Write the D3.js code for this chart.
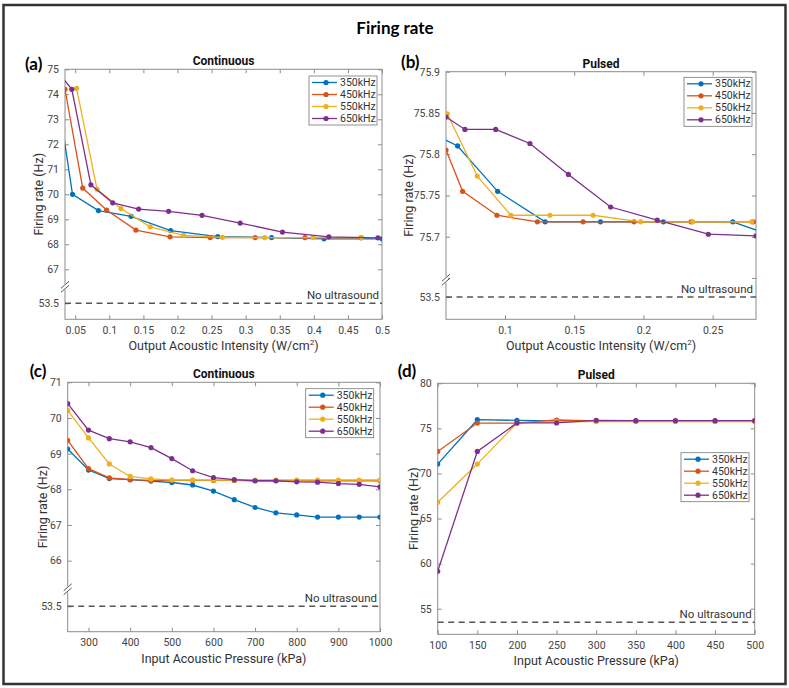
<!DOCTYPE html>
<html lang="en">

<head>
    <meta charset="UTF-8">
    <title>Firing rate</title>
    <script src="https://d3js.org/d3.v7.min.js"></script>
    <style>
        body { margin: 0; background: #fff; }
        svg { display: block; }
        .tick text { font-family: "Liberation Sans Narrow", Roboto, "Liberation Sans", sans-serif; font-size: 10.5px; fill: #444; }
        .lab { font-family: "Liberation Sans Narrow", Roboto, "Liberation Sans", sans-serif; fill: #333; }
    </style>
</head>

<body>
    <svg id="chart" width="789" height="688"></svg>

    <script>
        // series names + MATLAB default colours
        const freqs = ["350kHz", "450kHz", "550kHz", "650kHz"];
        const colors = ["#0072BD", "#D95319", "#EDB120", "#7E2F8E"];
        const noUltrasound = 53.5;

        // (a) continuous, output intensity (W/cm2) -> firing rate
        const a350x = [0.03, 0.046, 0.084, 0.132, 0.19, 0.259, 0.338, 0.415, 0.5];
        const a350y = [72.9, 70.0, 69.35, 69.12, 68.55, 68.31, 68.27, 68.22, 68.22];
        const a450x = [0.035, 0.061, 0.096, 0.139, 0.189, 0.248, 0.314, 0.387, 0.469];
        const a450y = [74.2, 70.25, 69.37, 68.57, 68.3, 68.27, 68.27, 68.27, 68.26];
        const a550x = [0.052, 0.082, 0.117, 0.16, 0.209, 0.266, 0.328, 0.399, 0.47];
        const a550y = [74.24, 70.2, 69.43, 68.7, 68.36, 68.28, 68.27, 68.27, 68.27];
        const a650x = [0.03, 0.045, 0.073, 0.105, 0.143, 0.187, 0.236, 0.292, 0.354, 0.422, 0.494];
        const a650y = [74.71, 74.2, 70.38, 69.66, 69.41, 69.32, 69.16, 68.85, 68.49, 68.3, 68.26];

        // (b) pulsed, output intensity
        const b350x = [0.05, 0.0658, 0.0947, 0.129, 0.169, 0.2144, 0.2645, 0.29];
        const b350y = [75.823, 75.81, 75.755, 75.718, 75.718, 75.718, 75.718, 75.703];
        const b450x = [0.0574, 0.0694, 0.0942, 0.1234, 0.1564, 0.1932, 0.2344, 0.2794];
        const b450y = [75.805, 75.755, 75.726, 75.718, 75.718, 75.718, 75.718, 75.718];
        const b550x = [0.0583, 0.08, 0.1043, 0.1325, 0.1636, 0.198, 0.2356, 0.2782];
        const b550y = [75.849, 75.7735, 75.726, 75.726, 75.726, 75.718, 75.718, 75.718];
        const b650x = [0.0574, 0.0711, 0.0933, 0.118, 0.1458, 0.1763, 0.21, 0.2469, 0.2813];
        const b650y = [75.845, 75.83, 75.83, 75.813, 75.7755, 75.736, 75.72, 75.703, 75.701];

        // (c) continuous, input pressure (kPa)
        const cPressure = [250, 300, 350, 400, 450, 500, 550, 600, 650, 700, 750, 800, 850, 900, 950, 1000];
        const c350 = [69.13, 68.54, 68.3, 68.27, 68.23, 68.19, 68.12, 67.95, 67.71, 67.49, 67.34, 67.28, 67.22, 67.22, 67.22, 67.22];
        const c450 = [69.37, 68.58, 68.32, 68.27, 68.25, 68.25, 68.25, 68.25, 68.25, 68.24, 68.24, 68.24, 68.24, 68.24, 68.24, 68.24];
        const c550 = [70.21, 69.44, 68.71, 68.36, 68.29, 68.26, 68.26, 68.26, 68.26, 68.26, 68.26, 68.26, 68.26, 68.26, 68.26, 68.26];
        const c650 = [70.4, 69.66, 69.42, 69.33, 69.17, 68.86, 68.52, 68.33, 68.27, 68.24, 68.24, 68.21, 68.2, 68.16, 68.14, 68.07];

        // (d) pulsed, input pressure (kPa)
        const dPressure = [100, 150, 200, 250, 300, 350, 400, 450, 500];
        const d350 = [71.04, 75.96, 75.89, 75.82, 75.82, 75.82, 75.82, 75.82, 75.82];
        const d450 = [72.44, 75.59, 75.59, 75.93, 75.82, 75.82, 75.82, 75.82, 75.82];
        const d550 = [66.8, 71.04, 75.6, 75.75, 75.75, 75.75, 75.75, 75.75, 75.75];
        const d650 = [59.15, 72.44, 75.6, 75.6, 75.89, 75.85, 75.85, 75.85, 75.85];

        // tick values
        const aXTicks = [0.05, 0.1, 0.15, 0.2, 0.25, 0.3, 0.35, 0.4, 0.45, 0.5];
        const aYTicks = [67, 68, 69, 70, 71, 72, 73, 74, 75];
        const bXTicks = [0.1, 0.15, 0.2, 0.25];
        const bYTicks = [75.65, 75.7, 75.75, 75.8, 75.85, 75.9];
        const cXTicks = [300, 400, 500, 600, 700, 800, 900, 1000];
        const cYTicks = [66, 67, 68, 69, 70, 71];
        const dXTicks = [100, 150, 200, 250, 300, 350, 400, 450, 500];
        const dYTicks = [55, 60, 65, 70, 75, 80];

        const zip = (xs, ys) => xs.map((v, i) => [v, ys[i]]);

        const panels = [
            {
                id: "a", label: "(a)", labelPos: [-40, 1], yLabelX: -22, title: "Continuous", box: [65, 69.3, 382, 319.3],
                xDomain: [0.035, 0.5], xTicks: aXTicks, xLabel: "intensity",
                yDomain: [53, noUltrasound, 67, 75], yRange: [1, 0.936, 0.8, 0], yTicks: aYTicks, hide: [],
                broken: true, breakFrac: 0.87, legend: [244, 6.7],
                series: [zip(a350x, a350y), zip(a450x, a450y), zip(a550x, a550y), zip(a650x, a650y)]
            },
            {
                id: "b", label: "(b)", labelPos: [-45, -4], yLabelX: -33, title: "Pulsed", box: [446, 71.7, 756, 319.3],
                xDomain: [0.0574, 0.2813], xTicks: bXTicks, xLabel: "intensity",
                yDomain: [53, noUltrasound, 75.65, 75.9], yRange: [1, 0.91, 0.833, 0], yTicks: bYTicks, hide: [75.65],
                broken: true, breakFrac: 0.84, legend: [238, 5.6],
                series: [zip(b350x, b350y), zip(b450x, b450y), zip(b550x, b550y), zip(b650x, b650y)]
            },
            {
                id: "c", label: "(c)", labelPos: [-38, -5], yLabelX: -21, title: "Continuous", box: [67.7, 382.3, 380, 631.7],
                xDomain: [250, 1000], xTicks: cXTicks, xLabel: "Input Acoustic Pressure (kPa)",
                yDomain: [53, noUltrasound, 66, 71], yRange: [1, 0.898, 0.715, 0], yTicks: cYTicks, hide: [],
                broken: true, breakFrac: 0.83, legend: [238, 6.4],
                series: [zip(cPressure, c350), zip(cPressure, c450), zip(cPressure, c550), zip(cPressure, c650)]
            },
            {
                id: "d", label: "(d)", labelPos: [-40, -6], yLabelX: -20, title: "Pulsed", box: [437.7, 383.3, 754.7, 634.3],
                xDomain: [100, 500], xTicks: dXTicks, xLabel: "Input Acoustic Pressure (kPa)",
                yDomain: [52.16, 80], yRange: [1, 0], yTicks: dYTicks, hide: [],
                broken: false, legend: [243.3, 69.4],
                series: [zip(dPressure, d350), zip(dPressure, d450), zip(dPressure, d550), zip(dPressure, d650)]
            }
        ];

        const svg = d3.select("#chart");
        const axisColor = "#8c8c8c";

        // outer frame + main title
        svg.append("rect")
            .attr("x", 3.5).attr("y", 5).attr("width", 782).attr("height", 679)
            .attr("fill", "white").attr("stroke", "#333").attr("stroke-width", 2.5);
        svg.append("text")
            .attr("x", 395).attr("y", 34).attr("text-anchor", "middle")
            .style("font-family", "Lato, 'Open Sans', sans-serif").style("font-weight", "bold").style("font-size", "17px")
            .text("Firing rate");

        function drawPanel(p) {
            const w = p.box[2] - p.box[0], h = p.box[3] - p.box[1];
            const g = svg.append("g").attr("transform", `translate(${p.box[0]},${p.box[1]})`);

            const x = d3.scaleLinear().domain(p.xDomain).range([0, w]);
            const y = d3.scaleLinear().domain(p.yDomain).range(p.yRange.map(f => f * h));

            g.append("clipPath").attr("id", "clip-" + p.id)
                .append("rect").attr("width", w).attr("height", h);

            g.append("rect").attr("width", w).attr("height", h)
                .attr("fill", "white").attr("stroke", axisColor);

            const yVals = p.broken ? [noUltrasound].concat(p.yTicks) : p.yTicks;
            const fmt = d => p.hide.includes(d) ? "" : String(d);

            // inward ticks on all four sides, like a boxed MATLAB axes
            const bottom = g.append("g").attr("transform", `translate(0,${h})`)
                .call(d3.axisBottom(x).tickValues(p.xTicks).tickSize(-4).tickPadding(7).tickFormat(d => String(d)));
            const top = g.append("g")
                .call(d3.axisTop(x).tickValues(p.xTicks).tickSize(-4).tickFormat(""));
            const left = g.append("g")
                .call(d3.axisLeft(y).tickValues(yVals).tickSize(-4).tickPadding(6).tickFormat(fmt));
            const right = g.append("g").attr("transform", `translate(${w},0)`)
                .call(d3.axisRight(y).tickValues(p.yTicks).tickSize(-4).tickFormat(""));
            [bottom, top, left, right].forEach(ax => {
                ax.select(".domain").remove();
                ax.selectAll("line").attr("stroke", axisColor);
            });

            // no-ultrasound baseline
            g.append("line")
                .attr("x1", 0).attr("x2", w)
                .attr("y1", y(noUltrasound)).attr("y2", y(noUltrasound))
                .attr("stroke", "#555").attr("stroke-width", 1.4).attr("stroke-dasharray", "6,4.5");
            g.append("text").attr("class", "lab")
                .attr("x", w - 3).attr("y", y(noUltrasound) - 4).attr("text-anchor", "end")
                .style("font-size", "11.5px").text("No ultrasound");

            // series
            const line = d3.line().x(d => x(d[0])).y(d => y(d[1]));
            const plot = g.append("g").attr("clip-path", `url(#clip-${p.id})`);
            p.series.forEach((s, i) => {
                plot.append("path").datum(s)
                    .attr("d", line).attr("fill", "none")
                    .attr("stroke", colors[i]).attr("stroke-width", 1.3);
                plot.selectAll(null).data(s).join("circle")
                    .attr("cx", d => x(d[0])).attr("cy", d => y(d[1]))
                    .attr("r", 2.6).attr("fill", colors[i]);
            });

            // axis break marks
            if (p.broken) {
                const by = p.breakFrac * h;
                g.append("rect").attr("x", -2).attr("y", by - 3).attr("width", 4).attr("height", 6).attr("fill", "white");
                [-2, 2].forEach(o => {
                    g.append("line")
                        .attr("x1", -4).attr("y1", by + o + 3.5).attr("x2", 4).attr("y2", by + o - 3.5)
                        .attr("stroke", "#555").attr("stroke-width", 1);
                });
            }

            // legend
            const lg = g.append("g").attr("transform", `translate(${p.legend[0]},${p.legend[1]})`);
            lg.append("rect").attr("width", 68).attr("height", 49)
                .attr("fill", "white").attr("stroke", "#777").attr("stroke-width", 0.8);
            freqs.forEach((f, i) => {
                const ry = 6.5 + i * 12;
                lg.append("line").attr("x1", 3).attr("x2", 28).attr("y1", ry).attr("y2", ry)
                    .attr("stroke", colors[i]).attr("stroke-width", 1.3);
                lg.append("circle").attr("cx", 17).attr("cy", ry).attr("r", 2.6).attr("fill", colors[i]);
                lg.append("text").attr("class", "lab").attr("x", 31).attr("y", ry + 3.6)
                    .style("font-size", "10.5px").text(f);
            });

            // title, panel letter, axis labels
            g.append("text").attr("class", "lab")
                .attr("x", w / 2).attr("y", -4).attr("text-anchor", "middle")
                .style("font-size", "12px").style("font-weight", "bold").style("fill", "#111")
                .text(p.title);
            g.append("text")
                .attr("x", p.labelPos[0]).attr("y", p.labelPos[1]).attr("text-anchor", "start")
                .style("font-family", "Lato, 'Open Sans', sans-serif").style("font-weight", "bold").style("font-size", "17px")
                .text(p.label);
            g.append("text").attr("class", "lab")
                .attr("transform", `translate(${p.yLabelX},${h / 2}) rotate(-90)`).attr("text-anchor", "middle")
                .style("font-size", "12.5px").text("Firing rate (Hz)");

            const xl = g.append("text").attr("class", "lab")
                .attr("x", w / 2).attr("y", h + 31).attr("text-anchor", "middle")
                .style("font-size", "12.5px");
            if (p.xLabel === "intensity") {
                xl.append("tspan").text("Output Acoustic Intensity (W/cm");
                xl.append("tspan").attr("dy", -5).style("font-size", "8px").text("2");
                xl.append("tspan").attr("dy", 5).text(")");
            } else {
                xl.text(p.xLabel);
            }
        }

        panels.forEach(drawPanel);
    </script>
</body>

</html>
